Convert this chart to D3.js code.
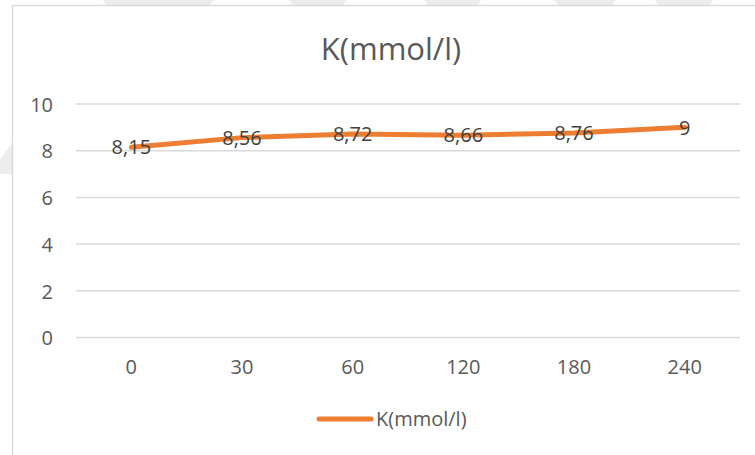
<!DOCTYPE html>
<html>
<head>
<meta charset="utf-8">
<script src="https://cdn.jsdelivr.net/npm/d3@7"></script>
<style>
  html, body { margin: 0; padding: 0; background: #fff; }
  svg { display: block; }
  text { font-family: "Open Sans", "Noto Sans", sans-serif; }
</style>
</head>
<body>
<svg id="chart" width="755" height="455"></svg>
<script>
// Potassium concentration over time
const categories = ["0", "30", "60", "120", "180", "240"];
const values = [8.15, 8.56, 8.72, 8.66, 8.76, 9];
const valueLabels = ["8,15", "8,56", "8,72", "8,66", "8,76", "9"];
const yTicks = [0, 2, 4, 6, 8, 10];
const seriesName = "K(mmol/l)";
const chartTitle = "K(mmol/l)";

const svg = d3.select("#chart");
const W = 755, H = 455;

// faint background stripes along the page top
const stripes = [[103, 214], [289, 347], [424, 481], [554, 616], [655, 713]];
svg.append("g").selectAll("path").data(stripes).join("path")
  .attr("d", d => `M${d[0]},0 L${d[1]},0 L${d[1] - 6},8 L${d[0] + 6},8 Z`)
  .attr("fill", "#ececec");
svg.append("path")
  .attr("d", "M0,160 L14,140 L14,174 L0,174 Z")
  .attr("fill", "#ececec");

// chart area with border
svg.append("rect")
  .attr("x", 12.5).attr("y", 5.5)
  .attr("width", W + 20).attr("height", H + 20)
  .attr("fill", "#fff")
  .attr("stroke", "#d9d9d9").attr("stroke-width", 1.5);

const x = d3.scaleBand().domain(categories).range([76, 740]).padding(0);
const y = d3.scaleLinear().domain([0, 10]).range([337.5, 104]);

// gridlines
svg.append("g").selectAll("line").data(yTicks).join("line")
  .attr("x1", 76).attr("x2", 740)
  .attr("y1", d => y(d)).attr("y2", d => y(d))
  .attr("stroke", "#d9d9d9").attr("stroke-width", 1.5);

// y-axis labels
const yAxis = d3.axisLeft(y).tickValues(yTicks).tickSize(0).tickPadding(0);
const yg = svg.append("g").attr("transform", "translate(53,0)").call(yAxis);
yg.select(".domain").remove();
yg.selectAll("text")
  .attr("fill", "#595959").attr("font-size", 20)
  .attr("dy", "0.36em").attr("x", 0);

// x-axis labels
const xAxis = d3.axisBottom(x).tickSize(0).tickPadding(0);
const xg = svg.append("g").attr("transform", "translate(0,367)").call(xAxis);
xg.select(".domain").remove();
xg.selectAll("text")
  .attr("fill", "#595959").attr("font-size", 20)
  .attr("y", 0).attr("dy", "0.36em");

// title
svg.append("text")
  .attr("x", 391).attr("y", 60)
  .attr("text-anchor", "middle")
  .attr("font-size", 31)
  .attr("fill", "#595959")
  .text(chartTitle);

// series line
const pts = categories.map((c, i) => ({ c, v: values[i], label: valueLabels[i] }));
const line = d3.line()
  .x(d => x(d.c) + x.bandwidth() / 2)
  .y(d => y(d.v));
svg.append("path")
  .datum(pts)
  .attr("d", line)
  .attr("fill", "none")
  .attr("stroke", "#ed7d31")
  .attr("stroke-width", 5)
  .attr("stroke-linejoin", "round")
  .attr("stroke-linecap", "round");

// value labels
svg.append("g").selectAll("text").data(pts).join("text")
  .attr("x", d => x(d.c) + x.bandwidth() / 2)
  .attr("y", d => y(d.v))
  .attr("dy", "0.36em")
  .attr("text-anchor", "middle")
  .attr("font-size", 20)
  .attr("fill", "#404040")
  .text(d => d.label);

// legend
const lg = svg.append("g");
lg.append("line")
  .attr("x1", 319).attr("x2", 371)
  .attr("y1", 419).attr("y2", 419)
  .attr("stroke", "#ed7d31").attr("stroke-width", 5)
  .attr("stroke-linecap", "round");
lg.append("text")
  .attr("x", 376).attr("y", 419)
  .attr("dy", "0.36em")
  .attr("font-size", 20)
  .attr("fill", "#595959")
  .text(seriesName);
</script>
</body>
</html>
